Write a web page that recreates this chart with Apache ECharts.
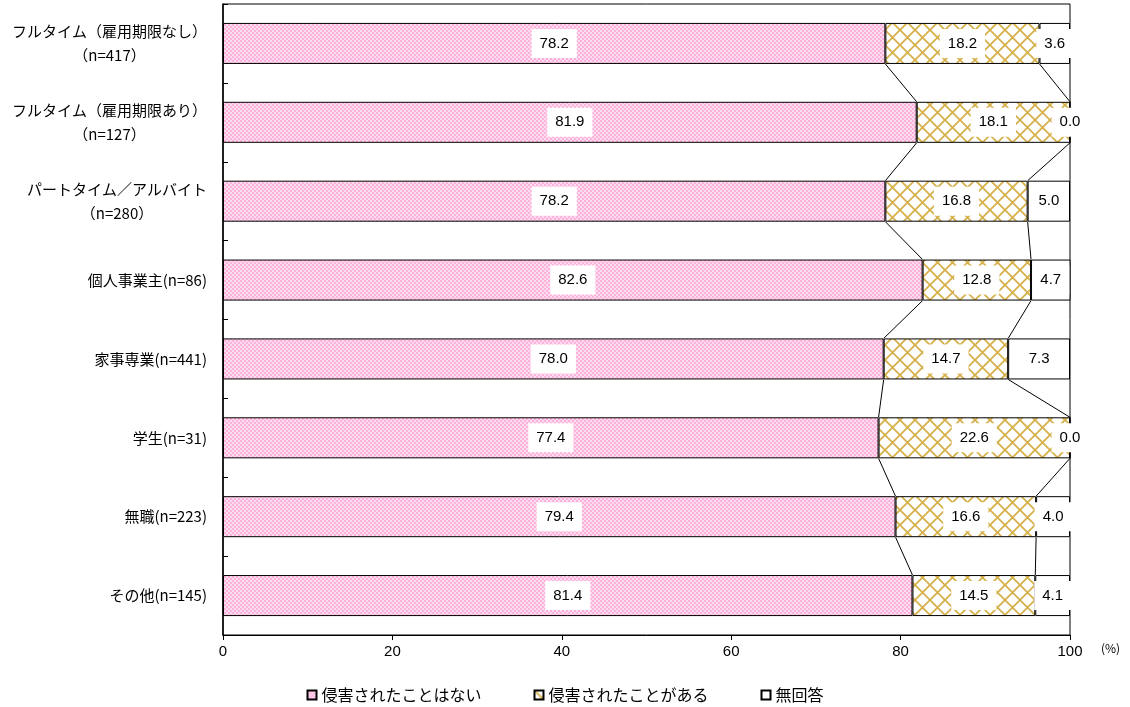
<!DOCTYPE html>
<html>
<head>
<meta charset="utf-8">
<script src="https://cdn.jsdelivr.net/npm/echarts@6/dist/echarts.min.js"></script>
<style>
html,body{margin:0;padding:0;background:#fff;}
#c{width:1130px;height:707px;}
</style>
</head>
<body>
<div id="c"></div>
<script>
const categories = [
  ['フルタイム（雇用期限なし）', '（n=417）'],
  ['フルタイム（雇用期限あり）', '（n=127）'],
  ['パートタイム／アルバイト', '（n=280）'],
  ['個人事業主(n=86)'],
  ['家事専業(n=441)'],
  ['学生(n=31)'],
  ['無職(n=223)'],
  ['その他(n=145)']
];
const seriesNames = ['侵害されたことはない', '侵害されたことがある', '無回答'];
const notInfringed = [78.2, 81.9, 78.2, 82.6, 78.0, 77.4, 79.4, 81.4];
const infringed = [18.2, 18.1, 16.8, 12.8, 14.7, 22.6, 16.6, 14.5];
const noAnswer = [3.6, 0.0, 5.0, 4.7, 7.3, 0.0, 4.0, 4.1];
const xTicks = [0, 20, 40, 60, 80, 100];

const BAR_RATIO = 0.52;

function makePink() {
  const c = document.createElement('canvas');
  c.width = 4; c.height = 4;
  const g = c.getContext('2d');
  g.fillStyle = '#ffdcef'; g.fillRect(0, 0, 4, 4);
  g.fillStyle = '#ffb2d9';
  g.fillRect(0, 0, 2, 2); g.fillRect(2, 2, 2, 2);
  return c;
}
function makeGold() {
  const s = 15;
  const c = document.createElement('canvas');
  c.width = s; c.height = s;
  const g = c.getContext('2d');
  g.fillStyle = '#ffffff'; g.fillRect(0, 0, s, s);
  g.strokeStyle = '#d6b04a'; g.lineWidth = 1.8;
  g.beginPath();
  g.moveTo(-1, -1); g.lineTo(s + 1, s + 1);
  g.moveTo(s + 1, -1); g.lineTo(-1, s + 1);
  g.stroke();
  return c;
}

const catKeys = categories.map(c => c.join('\n'));
const cum1 = notInfringed.slice();
const cum2 = notInfringed.map((v, i) => v + infringed[i]);
const linkData = [];
for (let i = 0; i < categories.length - 1; i++) {
  linkData.push([cum1[i], i, cum1[i + 1]]);
  linkData.push([cum2[i], i, cum2[i + 1]]);
}

const labelStyle = {
  show: true,
  position: 'inside',
  color: '#000',
  fontSize: 15,
  fontFamily: "'Liberation Sans', Arial, sans-serif",
  backgroundColor: '#fff',
  padding: [7, 8],
  formatter: p => Number(p.value).toFixed(1)
};

const chart = echarts.init(document.getElementById('c'), null, {renderer: 'canvas'});
chart.setOption({
  animation: false,
  backgroundColor: '#fff',
  grid: {left: 223, right: 60, top: 4, bottom: 72, show: true, borderColor: '#000', borderWidth: 1, backgroundColor: 'transparent'},
  legend: {
    data: seriesNames,
    top: 682,
    left: 'center',
    icon: 'rect',
    itemWidth: 9,
    itemHeight: 9,
    itemGap: 52,
    textStyle: {fontSize: 16, color: '#000', fontFamily: "'Noto Sans CJK JP', sans-serif"}
  },
  xAxis: {
    type: 'value',
    min: 0, max: 100, interval: 20,
    axisLine: {show: true, lineStyle: {color: '#000', width: 1}},
    axisTick: {show: true, length: 5, lineStyle: {color: '#000'}},
    splitLine: {show: false},
    axisLabel: {color: '#000', fontSize: 15, margin: 9, fontFamily: "'Liberation Sans', Arial, sans-serif",
      formatter: v => xTicks.includes(v) ? String(v) : ''},
    name: '(%)',
    nameLocation: 'end',
    nameGap: 31,
    nameTextStyle: {color: '#000', fontSize: 12, verticalAlign: 'top', padding: [7, 0, 0, 0], fontFamily: "'Noto Sans CJK JP', sans-serif"}
  },
  yAxis: {
    type: 'category',
    inverse: true,
    data: catKeys,
    axisLine: {show: true, lineStyle: {color: '#000', width: 1.5}},
    axisTick: {show: true, inside: true, length: 5, lineStyle: {color: '#000'}},
    axisLabel: {
      color: '#000',
      fontSize: 15,
      margin: 16,
      fontFamily: "'Noto Sans CJK JP', sans-serif",
      formatter: (v) => {
        const parts = v.split('\n');
        if (parts.length === 1) return '{a|' + parts[0] + '}';
        return '{a|' + parts[0] + '}\n{b|' + parts[1] + '}';
      },
      rich: {
        a: {fontSize: 15, lineHeight: 24, color: '#000', fontFamily: "'Noto Sans CJK JP', sans-serif"},
        b: {fontSize: 15, lineHeight: 24, color: '#000', align: 'center', fontFamily: "'Noto Sans CJK JP', sans-serif"}
      }
    }
  },
  series: [
    {
      name: seriesNames[0], type: 'bar', stack: 'total', barWidth: (BAR_RATIO * 100) + '%',
      data: notInfringed,
      itemStyle: {color: {image: makePink(), repeat: 'repeat'}, borderColor: '#000', borderWidth: 1},
      label: labelStyle
    },
    {
      name: seriesNames[1], type: 'bar', stack: 'total',
      data: infringed,
      itemStyle: {color: {image: makeGold(), repeat: 'repeat'}, borderColor: '#000', borderWidth: 1},
      label: labelStyle
    },
    {
      name: seriesNames[2], type: 'bar', stack: 'total',
      data: noAnswer,
      itemStyle: {color: '#fff', borderColor: '#000', borderWidth: 1},
      label: labelStyle
    },
    {
      name: 'links', type: 'custom',
      data: linkData,
      encode: {x: [0, 2], y: 1},
      silent: true,
      z: 1,
      renderItem: (params, api) => {
        const a = api.value(0), i = api.value(1), b = api.value(2);
        const p0 = api.coord([a, i]);
        const p1 = api.coord([b, i + 1]);
        const half = api.size([0, 1])[1] * BAR_RATIO / 2;
        return {
          type: 'line',
          shape: {x1: p0[0], y1: p0[1] + half, x2: p1[0], y2: p1[1] - half},
          style: {stroke: '#000', lineWidth: 1}
        };
      }
    }
  ]
});
</script>
</body>
</html>
